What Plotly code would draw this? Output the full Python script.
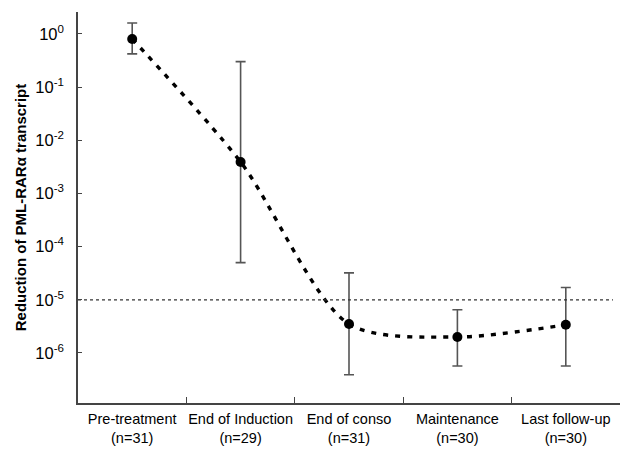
import plotly.graph_objects as go

categories = ["Pre-treatment<br>(n=31)", "End of Induction<br>(n=29)", "End of conso<br>(n=31)",
              "Maintenance<br>(n=30)", "Last follow-up<br>(n=30)"]
values = [0.80, 3.9e-3, 3.5e-6, 2.0e-6, 3.4e-6]
upper = [1.6, 0.30, 3.2e-5, 6.5e-6, 1.7e-5]
lower = [0.42, 5.0e-5, 3.9e-7, 5.7e-7, 5.7e-7]
threshold = 1e-5
ytick_vals = [1, 1e-1, 1e-2, 1e-3, 1e-4, 1e-5, 1e-6]
ytick_text = ["10<sup>0</sup>", "10<sup>-1</sup>", "10<sup>-2</sup>", "10<sup>-3</sup>",
              "10<sup>-4</sup>", "10<sup>-5</sup>", "10<sup>-6</sup>"]

err_plus = [u - v for u, v in zip(upper, values)]
err_minus = [v - l for v, l in zip(values, lower)]

fig = go.Figure()

# threshold dotted line on overlay axis
fig.add_trace(go.Scatter(x=[0, 0.987], y=[threshold, threshold], xaxis="x2", yaxis="y",
                         mode="lines", line=dict(color="#333", width=1.3, dash="3px,3px"),
                         hoverinfo="skip", showlegend=False))

# dashed spline
fig.add_trace(go.Scatter(x=categories, y=values, mode="lines",
                         line=dict(color="black", width=3.4, dash="5px,7px", shape="spline", smoothing=0.8),
                         showlegend=False))

# points with error bars
fig.add_trace(go.Scatter(x=categories, y=values, mode="markers",
                         marker=dict(color="black", size=10),
                         error_y=dict(type="data", symmetric=False, array=err_plus, arrayminus=err_minus,
                                      color="#555", thickness=1.6, width=5),
                         showlegend=False))

fig.update_layout(
    width=628, height=453,
    margin=dict(l=78, r=8, t=12, b=50, autoexpand=False),
    paper_bgcolor="white", plot_bgcolor="white",
    font=dict(family="Liberation Sans, Arial, sans-serif", color="black"),
    xaxis=dict(type="category", range=[-0.5, 4.5], tickson="boundaries", ticks="inside",
               ticklen=6, tickwidth=1.2, tickcolor="#444", showline=True, linecolor="#444",
               linewidth=1.5, showgrid=False, zeroline=False, tickfont=dict(size=14.5),
               tickangle=0, automargin=False, ticklabelstandoff=2),
    xaxis2=dict(overlaying="x", range=[0, 1], visible=False, showgrid=False),
    yaxis=dict(type="log", range=[-6.94, 0.41], tickvals=ytick_vals, ticktext=ytick_text,
               ticks="inside", ticklen=4, tickwidth=1.2, tickcolor="#444", showline=True,
               linecolor="#444", linewidth=1.5, showgrid=False, zeroline=False,
               tickfont=dict(size=16.5), ticklabelstandoff=9, automargin=False,
               title=dict(text="<b>Reduction of PML-RARα transcript</b>", font=dict(size=15),
                          standoff=5)),
)

fig.write_html("out.html", config={"displayModeBar": False},
               post_script="document.body.style.margin='0px';")
